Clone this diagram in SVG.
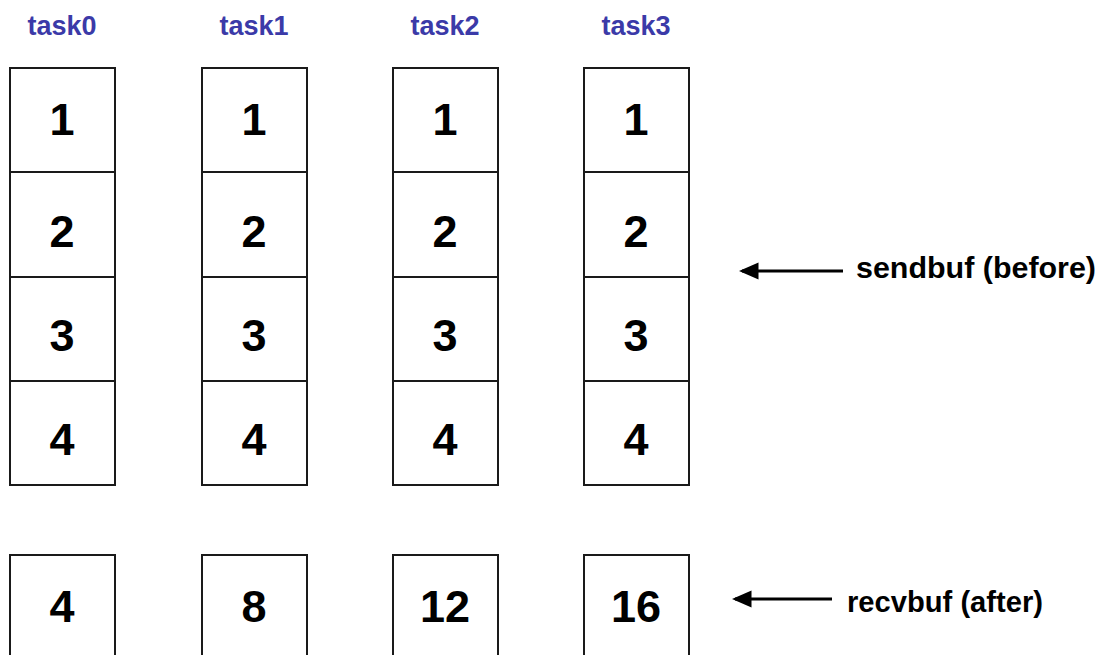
<svg xmlns="http://www.w3.org/2000/svg" width="1105" height="655" viewBox="0 0 1105 655">
<style>
.cell{fill:#fff;stroke:#1a1a1a;stroke-width:2}
.task{font-family:"Liberation Sans",Arial,sans-serif;font-weight:bold;font-size:27px;fill:#3b3aa8;text-anchor:middle}
.num{font-family:"Liberation Sans",Arial,sans-serif;font-weight:bold;font-size:45px;fill:#000;text-anchor:middle}
.lbl{font-family:"Liberation Sans",Arial,sans-serif;font-weight:bold;font-size:29px;fill:#000}
.conn{stroke:#000;stroke-width:3;fill:none}
</style>
<defs>
<marker id="ah" markerWidth="6" markerHeight="5" refX="5" refY="2.5" orient="auto" markerUnits="strokeWidth" overflow="visible">
<path d="M-0.5,-0.3 L6,2.5 L-0.5,5.3 Z" fill="#000"/>
</marker>
</defs>
<rect width="1105" height="655" fill="#fff"/>
<g id="task0">
<text class="task" x="62" y="35">task0</text>
<rect class="cell" x="10" y="68" width="105" height="104"/>
<rect class="cell" x="10" y="172" width="105" height="105"/>
<rect class="cell" x="10" y="277" width="105" height="104"/>
<rect class="cell" x="10" y="381" width="105" height="104"/>
<text class="num" x="62" y="135">1</text>
<text class="num" x="62" y="247">2</text>
<text class="num" x="62" y="351">3</text>
<text class="num" x="62" y="455">4</text>
</g>
<g id="task1">
<text class="task" x="254" y="35">task1</text>
<rect class="cell" x="202" y="68" width="105" height="104"/>
<rect class="cell" x="202" y="172" width="105" height="105"/>
<rect class="cell" x="202" y="277" width="105" height="104"/>
<rect class="cell" x="202" y="381" width="105" height="104"/>
<text class="num" x="254" y="135">1</text>
<text class="num" x="254" y="247">2</text>
<text class="num" x="254" y="351">3</text>
<text class="num" x="254" y="455">4</text>
</g>
<g id="task2">
<text class="task" x="445" y="35">task2</text>
<rect class="cell" x="393" y="68" width="105" height="104"/>
<rect class="cell" x="393" y="172" width="105" height="105"/>
<rect class="cell" x="393" y="277" width="105" height="104"/>
<rect class="cell" x="393" y="381" width="105" height="104"/>
<text class="num" x="445" y="135">1</text>
<text class="num" x="445" y="247">2</text>
<text class="num" x="445" y="351">3</text>
<text class="num" x="445" y="455">4</text>
</g>
<g id="task3">
<text class="task" x="636" y="35">task3</text>
<rect class="cell" x="584" y="68" width="105" height="104"/>
<rect class="cell" x="584" y="172" width="105" height="105"/>
<rect class="cell" x="584" y="277" width="105" height="104"/>
<rect class="cell" x="584" y="381" width="105" height="104"/>
<text class="num" x="636" y="135">1</text>
<text class="num" x="636" y="247">2</text>
<text class="num" x="636" y="351">3</text>
<text class="num" x="636" y="455">4</text>
</g>
<g id="recv0">
<rect class="cell" x="10" y="555" width="105" height="110"/>
<text class="num" x="62" y="622">4</text>
</g>
<g id="recv1">
<rect class="cell" x="202" y="555" width="105" height="110"/>
<text class="num" x="254" y="622">8</text>
</g>
<g id="recv2">
<rect class="cell" x="393" y="555" width="105" height="110"/>
<text class="num" x="445" y="622">12</text>
</g>
<g id="recv3">
<rect class="cell" x="584" y="555" width="105" height="110"/>
<text class="num" x="636" y="622">16</text>
</g>
<g id="sendbuf-label">
<text class="lbl" x="856" y="278" textLength="240" lengthAdjust="spacingAndGlyphs">sendbuf (before)</text>
</g>
<g id="recvbuf-label">
<text class="lbl" x="847" y="612" textLength="196" lengthAdjust="spacingAndGlyphs">recvbuf (after)</text>
</g>
<g id="connectors">
<line class="conn" x1="843" y1="271" x2="742" y2="271" marker-end="url(#ah)"/>
<line class="conn" x1="832" y1="599" x2="735" y2="599" marker-end="url(#ah)"/>
</g>
</svg>
